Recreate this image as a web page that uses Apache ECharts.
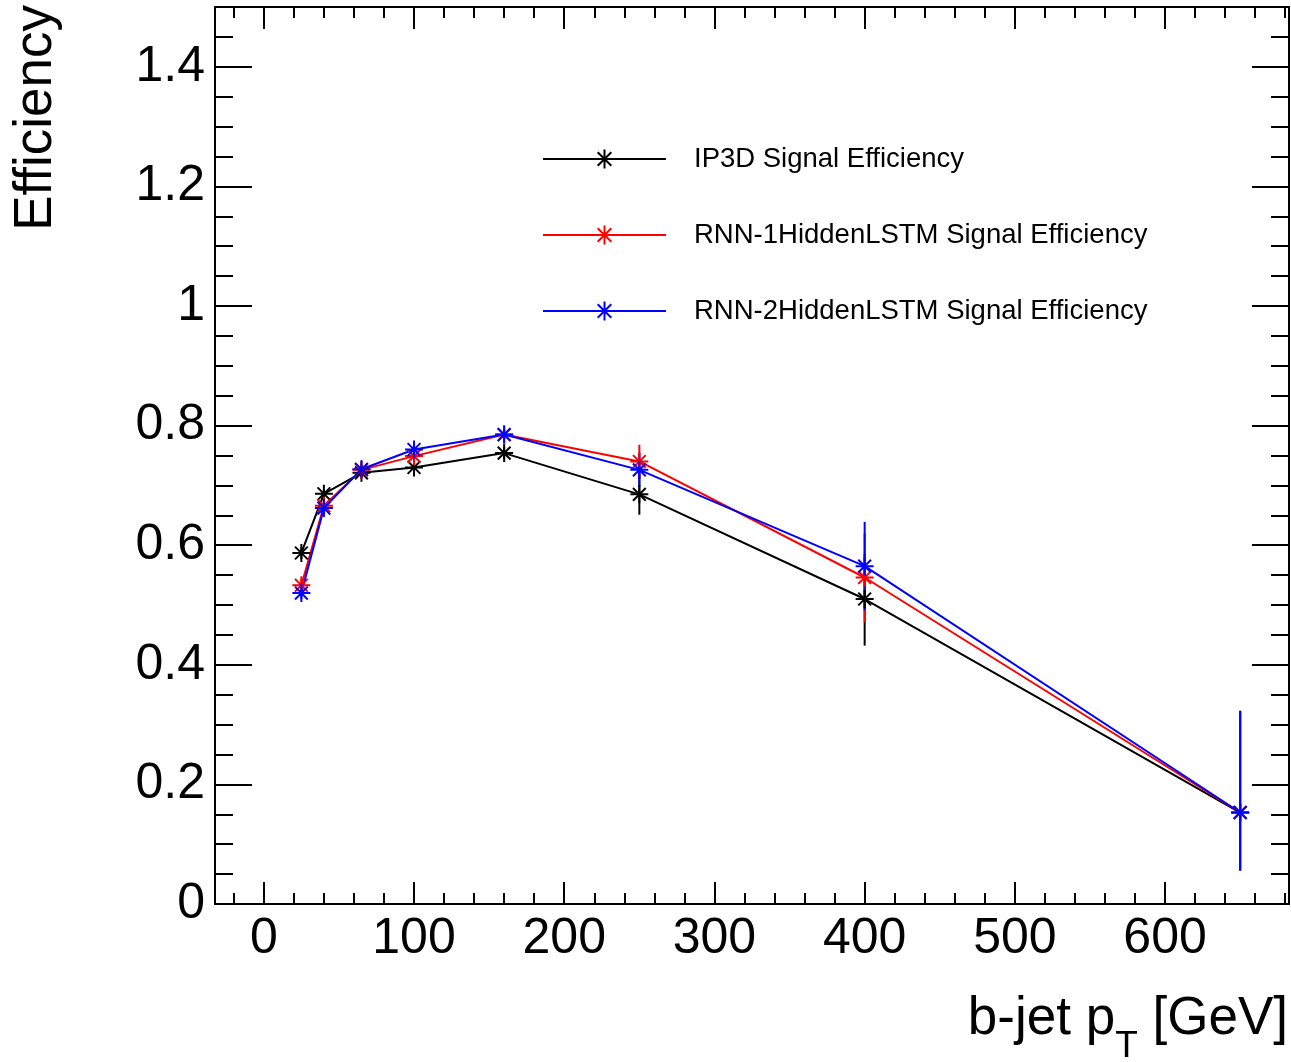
<!DOCTYPE html>
<html>
<head>
<meta charset="utf-8">
<script src="https://cdn.jsdelivr.net/npm/echarts@6/dist/echarts.min.js"></script>
<style>
html,body{margin:0;padding:0;background:#fff;}
#chart{width:1291px;height:1062px;}
</style>
</head>
<body>
<div id="chart"></div>
<script>
// ---- data ----
const ptBins = [25, 40, 65, 100, 160, 250, 400, 650];
const ip3dEff = [0.587, 0.686, 0.721, 0.730, 0.754, 0.685, 0.510, 0.153];
const ip3dErrUp = [0.010, 0.008, 0.006, 0.007, 0.010, 0.034, 0.076, 0.170];
const ip3dErrDown = [0.010, 0.008, 0.006, 0.007, 0.010, 0.034, 0.078, 0.097];
const rnn1Eff = [0.533, 0.666, 0.726, 0.749, 0.785, 0.740, 0.546, 0.153];
const rnn1ErrUp = [0.010, 0.008, 0.006, 0.007, 0.008, 0.028, 0.074, 0.170];
const rnn1ErrDown = [0.010, 0.008, 0.006, 0.007, 0.008, 0.028, 0.075, 0.097];
const rnn2Eff = [0.520, 0.662, 0.727, 0.760, 0.785, 0.726, 0.565, 0.153];
const rnn2ErrUp = [0.010, 0.008, 0.006, 0.007, 0.008, 0.028, 0.074, 0.170];
const rnn2ErrDown = [0.010, 0.008, 0.006, 0.007, 0.008, 0.028, 0.074, 0.097];
const seriesNames = ['IP3D Signal Efficiency', 'RNN-1HiddenLSTM Signal Efficiency', 'RNN-2HiddenLSTM Signal Efficiency'];
const xMajorTicks = [0, 100, 200, 300, 400, 500, 600];
const xMinorTicks = [-20, 20, 40, 60, 80, 120, 140, 160, 180, 220, 240, 260, 280, 320, 340, 360, 380, 420, 440, 460, 480, 520, 540, 560, 580, 620, 640, 660, 680];
const yMajorTicks = [0, 0.2, 0.4, 0.6, 0.8, 1, 1.2, 1.4];
const yMinorTicks = [0.05, 0.1, 0.15, 0.25, 0.3, 0.35, 0.45, 0.5, 0.55, 0.65, 0.7, 0.75, 0.85, 0.9, 0.95, 1.05, 1.1, 1.15, 1.25, 1.3, 1.35, 1.45];

const X_MIN = -32.5, X_MAX = 682.5, Y_MIN = 0, Y_MAX = 1.5;
const FONT = '"Liberation Sans", Arial, Helvetica, sans-serif';
const STAR = 'path://M10,0L10,20M0,10L20,10M2.9,2.9L17.1,17.1M2.9,17.1L17.1,2.9';

function mkX(pos, major, withLabel) {
  return {
    type: 'value', position: pos, min: X_MIN, max: X_MAX, gridIndex: 0,
    axisLine: { show: major, onZero: false, lineStyle: { color: '#000', width: 2 } },
    axisTick: { show: true, inside: true, customValues: major ? xMajorTicks : xMinorTicks,
                length: major ? 22 : 11, lineStyle: { color: '#000', width: 2 } },
    axisLabel: withLabel ? { show: true, customValues: xMajorTicks, fontSize: 50, fontFamily: FONT, color: '#000', margin: 10 }
                         : { show: false },
    splitLine: { show: false }
  };
}
function mkY(pos, major, withLabel) {
  return {
    type: 'value', position: pos, min: Y_MIN, max: Y_MAX, gridIndex: 0,
    axisLine: { show: major, onZero: false, lineStyle: { color: '#000', width: 2 } },
    axisTick: { show: true, inside: true, customValues: major ? yMajorTicks : yMinorTicks,
                length: major ? 37 : 18, lineStyle: { color: '#000', width: 2 } },
    axisLabel: withLabel ? { show: true, customValues: yMajorTicks, fontSize: 50, fontFamily: FONT, color: '#000', margin: 10 }
                         : { show: false },
    splitLine: { show: false }
  };
}

const xAxes = [mkX('bottom', true, true), mkX('bottom', false, false), mkX('top', true, false), mkX('top', false, false)];
xAxes[0].name = '{n|b-jet p}{sub|T}{n| [GeV]}';
xAxes[0].nameLocation = 'end';
xAxes[0].nameGap = -1;
xAxes[0].nameMoveOverlap = false;
xAxes[0].nameTextStyle = {
  align: 'right', verticalAlign: 'top', padding: [89, 0, 0, 0], fontFamily: FONT, color: '#000',
  rich: {
    n: { fontSize: 53, fontFamily: FONT, color: '#000', lineHeight: 72, verticalAlign: 'top' },
    sub: { fontSize: 37, fontFamily: FONT, color: '#000', lineHeight: 72, verticalAlign: 'bottom' }
  }
};
const yAxes = [mkY('left', true, true), mkY('left', false, false), mkY('right', true, false), mkY('right', false, false)];
yAxes[0].name = 'Efficiency';
yAxes[0].nameLocation = 'end';
yAxes[0].nameGap = 2;
yAxes[0].nameRotate = 90;
yAxes[0].nameMoveOverlap = false;
yAxes[0].nameTextStyle = { fontSize: 53, fontFamily: FONT, color: '#000', align: 'right', verticalAlign: 'bottom', lineHeight: 53, padding: [0, 0, 152, 0] };

const colors = ['#000000', '#ff0000', '#0000ff'];
const effs = [ip3dEff, rnn1Eff, rnn2Eff];
const ups = [ip3dErrUp, rnn1ErrUp, rnn2ErrUp];
const downs = [ip3dErrDown, rnn1ErrDown, rnn2ErrDown];

const series = [];
for (let k = 0; k < 3; k++) {
  const c = colors[k];
  series.push({
    name: seriesNames[k] + ' errors', type: 'custom', xAxisIndex: 0, yAxisIndex: 0,
    data: ptBins.map((x, i) => [x, effs[k][i] - downs[k][i], effs[k][i] + ups[k][i]]),
    renderItem: function (params, api) {
      const p0 = api.coord([api.value(0), api.value(1)]);
      const p1 = api.coord([api.value(0), api.value(2)]);
      return { type: 'line', shape: { x1: p0[0], y1: p0[1], x2: p1[0], y2: p1[1] },
               style: { stroke: c, lineWidth: 2 } };
    },
    silent: true, animation: false
  });
  series.push({
    name: seriesNames[k], type: 'line', xAxisIndex: 0, yAxisIndex: 0,
    data: ptBins.map((x, i) => [x, effs[k][i]]),
    symbol: STAR, symbolSize: 18, showAllSymbol: true,
    lineStyle: { color: c, width: 2 },
    itemStyle: { color: c, borderColor: c, borderWidth: 2 },
    animation: false, silent: true
  });
}

const chart = echarts.init(document.getElementById('chart'), null, { renderer: 'canvas' });
chart.setOption({
  backgroundColor: '#fff',
  animation: false,
  grid: { left: 215, right: 2, top: 7, bottom: 158, containLabel: false, outerBoundsMode: 'none' },
  xAxis: xAxes,
  yAxis: yAxes,
  legend: {
    data: seriesNames, orient: 'vertical', left: 537, top: 140,
    itemWidth: 123, itemHeight: 24, itemGap: 48,
    textStyle: { fontSize: 27.5, fontFamily: FONT, color: '#000', padding: [0, 0, 0, 23], lineHeight: 24 },
    selectedMode: false
  },
  series: series
});
</script>
</body>
</html>
